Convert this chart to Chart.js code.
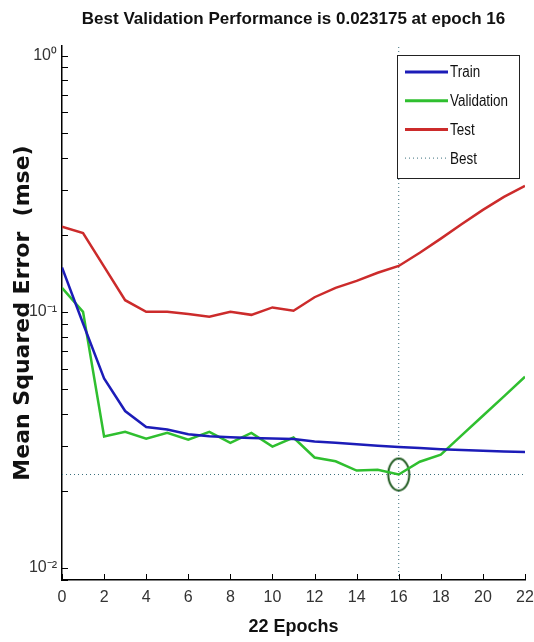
<!DOCTYPE html>
<html>
<head>
<meta charset="utf-8">
<script src="https://cdn.jsdelivr.net/npm/chart.js@4.4.1/dist/chart.umd.min.js"></script>
<style>
  html, body { margin: 0; padding: 0; background: #fff; }
</style>
</head>
<body>
<canvas id="perf" width="534" height="642"></canvas>
<script>
const epochs = [0, 1, 2, 3, 4, 5, 6, 7, 8, 9, 10, 11, 12, 13, 14, 15, 16, 17, 18, 19, 20, 21, 22];
const trainMse = [0.149, 0.090, 0.055, 0.041, 0.0355, 0.0347, 0.0333, 0.0327, 0.0324, 0.0322, 0.0320, 0.0319,
                  0.0312, 0.0308, 0.0304, 0.0300, 0.0297, 0.0294, 0.0291, 0.0289, 0.0287, 0.0285, 0.0284];
const validationMse = [0.124, 0.100, 0.0326, 0.0340, 0.0320, 0.0337, 0.0317, 0.0340, 0.0308, 0.0337, 0.0298, 0.0323,
                       0.0270, 0.0261, 0.0240, 0.0242, 0.023175, 0.0260, 0.0277, 0.0330, 0.0393, 0.0468, 0.0558];
const testMse = [0.215, 0.203, 0.150, 0.111, 0.100, 0.100, 0.098, 0.0957, 0.100, 0.0973, 0.104, 0.101,
                 0.114, 0.124, 0.132, 0.142, 0.151, 0.170, 0.193, 0.220, 0.250, 0.281, 0.310];
const xTicks = [0, 2, 4, 6, 8, 10, 12, 14, 16, 18, 20, 22];
const yDecades = [0.01, 0.1, 1];
const yDecadeLabels = ['10⁻²', '10⁻¹', '10⁰'];
const bestEpoch = 16;
const bestPerf = 0.023175;
const yMin = 0.00898, yMax = 1.09;

const sans = "'Liberation Sans', Arial, sans-serif";
const dotColor = '#3b6f7c';

// ellipse marker for the best epoch
const ring = document.createElement('canvas');
ring.width = 26; ring.height = 36;
const rc = ring.getContext('2d');
rc.strokeStyle = '#1f5a1f';
rc.lineWidth = 2;
rc.beginPath();
rc.ellipse(13, 18, 10.5, 16, 0, 0, 2 * Math.PI);
rc.stroke();

const pts = vals => epochs.map((e, i) => ({ x: e, y: vals[i] }));

// MATLAB style ticks pointing into the plot
const inwardTicks = {
  id: 'inwardTicks',
  afterDatasetsDraw(chart) {
    const { ctx, chartArea, scales: { x, y } } = chart;
    ctx.save();
    ctx.strokeStyle = '#000';
    ctx.lineWidth = 1;
    ctx.beginPath();
    xTicks.forEach(v => {
      const px = Math.round(x.getPixelForValue(v)) + 0.5;
      ctx.moveTo(px, chartArea.bottom);
      ctx.lineTo(px, chartArea.bottom - 6);
    });
    for (let e = -3; e <= 0; e++) {
      for (let d = 1; d <= 9; d++) {
        const v = d * Math.pow(10, e);
        if (v < y.min || v > y.max) continue;
        const py = Math.round(y.getPixelForValue(v)) + 0.5;
        ctx.moveTo(chartArea.left, py);
        ctx.lineTo(chartArea.left + 6, py);
      }
    }
    ctx.stroke();
    ctx.restore();
  }
};

const boxLegend = {
  id: 'boxLegend',
  afterDatasetsDraw(chart) {
    const { ctx, chartArea } = chart;
    const items = chart.data.datasets.filter(d => d.inLegend);
    const left = chartArea.right - 128, top = chartArea.top + 9;
    const w = 122, h = 123;
    ctx.save();
    ctx.fillStyle = '#fff';
    ctx.fillRect(left, top, w, h);
    ctx.strokeStyle = '#222';
    ctx.lineWidth = 1;
    ctx.strokeRect(left + 0.5, top + 0.5, w, h);
    ctx.font = '16px ' + sans;
    ctx.textBaseline = 'middle';
    items.forEach((d, i) => {
      const yy = top + 17 + i * 28.7;
      ctx.beginPath();
      ctx.strokeStyle = d.borderColor;
      ctx.lineWidth = d.borderDash ? 1 : 3;
      ctx.setLineDash(d.borderDash || []);
      ctx.moveTo(left + 8, yy);
      ctx.lineTo(left + 51, yy);
      ctx.stroke();
      ctx.setLineDash([]);
      ctx.fillStyle = '#111';
      // squeeze the text a little, like the narrow font of the original
      ctx.save();
      ctx.translate(left + 53, yy + 1);
      ctx.scale(0.84, 1);
      ctx.fillText(d.label, 0, 0);
      ctx.restore();
    });
    ctx.restore();
  }
};

new Chart(document.getElementById('perf'), {
  type: 'line',
  data: {
    datasets: [
      { label: 'Train', data: pts(trainMse), borderColor: '#1c1cb8', borderWidth: 2.5, pointRadius: 0, inLegend: true },
      { label: 'Validation', data: pts(validationMse), borderColor: '#2fbf2f', borderWidth: 2.5, pointRadius: 0, inLegend: true },
      { label: 'Test', data: pts(testMse), borderColor: '#cc2b2b', borderWidth: 2.5, pointRadius: 0, inLegend: true },
      { label: 'Best', data: [{ x: bestEpoch, y: yMin }, { x: bestEpoch, y: yMax }], borderColor: dotColor,
        borderWidth: 1, borderDash: [1, 3], pointRadius: 0, inLegend: true },
      { label: 'Best level', data: [{ x: 0, y: bestPerf }, { x: 22, y: bestPerf }], borderColor: dotColor,
        borderWidth: 1, borderDash: [1, 3], pointRadius: 0 },
      { label: 'Best point', data: [{ x: bestEpoch, y: bestPerf }], showLine: false,
        pointStyle: ring, pointRadius: 12 }
    ]
  },
  options: {
    responsive: false,
    animation: false,
    devicePixelRatio: 1,
    layout: { autoPadding: false, padding: { left: 0, right: 9, top: 0, bottom: 0 } },
    plugins: {
      legend: { display: false },
      tooltip: { enabled: false },
      title: {
        display: true,
        fullSize: false,
        text: 'Best Validation Performance is 0.023175 at epoch 16',
        color: '#111',
        font: { family: sans, size: 17, weight: 'bold' },
        padding: { top: 9, bottom: 16.6 }
      }
    },
    scales: {
      x: {
        type: 'linear',
        min: 0,
        max: 22,
        afterBuildTicks: s => { s.ticks = xTicks.map(v => ({ value: v })); },
        afterFit: s => { s.height = 62; s.paddingLeft = 0; s.paddingRight = 0; },
        grid: { display: false, drawTicks: false },
        border: { display: true, color: '#000', width: 1.5 },
        ticks: { color: '#333', padding: 8, font: { family: sans, size: 16 }, autoSkip: false, maxRotation: 0 },
        title: {
          display: true,
          text: '22 Epochs',
          color: '#111',
          font: { family: sans, size: 18, weight: 'bold' },
          padding: { top: 0, bottom: 4 }
        }
      },
      y: {
        type: 'logarithmic',
        min: yMin,
        max: yMax,
        afterBuildTicks: s => { s.ticks = yDecades.map(v => ({ value: v })); },
        afterFit: s => { s.width = 62; },
        grid: { display: false, drawTicks: false },
        border: { display: true, color: '#000', width: 1.5 },
        ticks: {
          color: '#333',
          padding: 5,
          font: { family: sans, size: 16 },
          autoSkip: false,
          callback: (v, i) => yDecadeLabels[i]
        },
        title: {
          display: true,
          text: 'Mean Squared Error  (mse)',
          color: '#111',
          font: { family: "'DejaVu Sans', Verdana, sans-serif", size: 22, weight: 'bold' },
          padding: { top: 10, bottom: 0 }
        }
      }
    }
  },
  plugins: [inwardTicks, boxLegend]
});
</script>
</body>
</html>
